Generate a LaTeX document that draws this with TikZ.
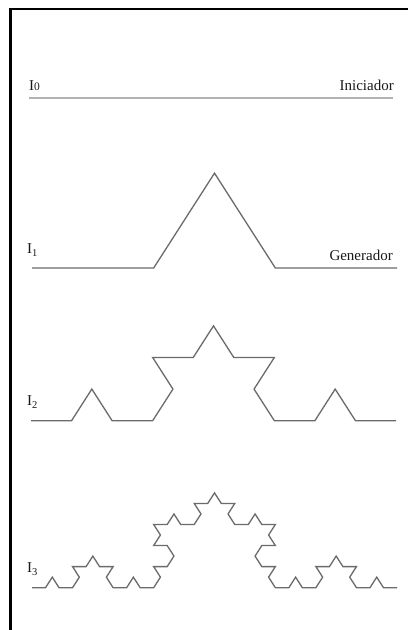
\documentclass[tikz,border=0pt]{standalone}
\usepackage{fontspec}
\setmainfont{Liberation Serif}
\usetikzlibrary{lindenmayersystems}
\tikzset{
  frame/.style={line width=2.6pt, black},
  initline/.style={line width=2pt, color=black!30},
  kochline/.style={line width=1.3pt, color=black!58, line join=miter},
  lbl/.style={inner sep=0pt, font=\fontsize{15}{17}\selectfont, text=black!90},
}
\begin{document}
\begin{tikzpicture}[x=1pt,y=1pt]
\useasboundingbox (0,0) rectangle (408,630);
\fill[white] (0,0) rectangle (408,630);
% frame (top and left edges)
\coordinate (fb) at (10.5,0);
\coordinate (fc) at (10.5,621);
\coordinate (fr) at (408,621);
\draw[frame] (fb) -- (fc) -- (fr);

% I0 : initiator
\coordinate (i0a) at (29,532);
\coordinate (i0b) at (393,532);
\draw[initline] (i0a) -- (i0b);
\node[lbl, anchor=base west] (l0) at (29,539) {I{\fontsize{11.5}{12}\selectfont 0}};
\node[lbl, anchor=base east] (ini) at (394,539) {Iniciador};

% I1 : generator
\begin{scope}[shift={(32,362)}, yscale=0.9]
\draw[kochline] (0,0) [l-system={rule set={F -> F+F--F+F}, axiom=F, order=1, step=121.667pt, angle=60}] lindenmayer system;
\end{scope}
\node[lbl, anchor=base west] (l1) at (27,376) {I\textsubscript{1}};
\node[lbl, anchor=base east] (gen) at (393,369.5) {Generador};

% I2
\begin{scope}[shift={(31,209.3)}, yscale=0.9]
\draw[kochline] (0,0) [l-system={rule set={F -> F+F--F+F}, axiom=F, order=2, step=40.556pt, angle=60}] lindenmayer system;
\end{scope}
\node[lbl, anchor=base west] (l2) at (27,224) {I\textsubscript{2}};

% I3
\begin{scope}[shift={(32,42.3)}, yscale=0.9]
\draw[kochline] (0,0) [l-system={rule set={F -> F+F--F+F}, axiom=F, order=3, step=13.519pt, angle=60}] lindenmayer system;
\end{scope}
\node[lbl, anchor=base west] (l3) at (27,57) {I\textsubscript{3}};
\end{tikzpicture}
\end{document}
